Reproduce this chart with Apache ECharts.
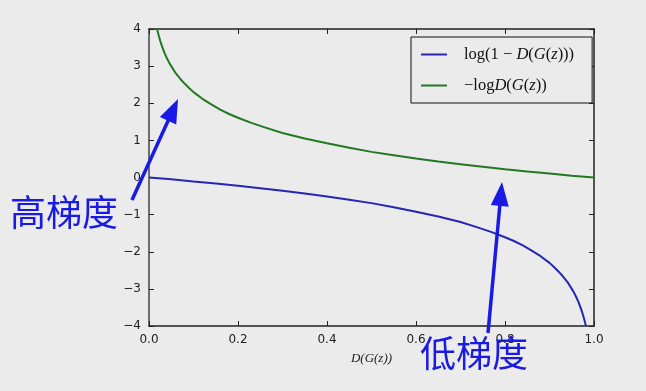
<!DOCTYPE html>
<html><head><meta charset="utf-8">
<script src="https://cdn.jsdelivr.net/npm/echarts@6/dist/echarts.min.js"></script>
<style>html,body{margin:0;padding:0;background:#ebebeb}#c{width:646px;height:391px}</style>
</head><body><div id="c"></div>
<script>
// values
const greenX = [0.018,0.02,0.022,0.025,0.028,0.03,0.035,0.04,0.045,0.05,0.06,0.07,0.08,0.09,0.1,0.12,0.14,0.16,0.18,0.2,0.23,0.26,0.3,0.35,0.4,0.45,0.5,0.55,0.6,0.65,0.7,0.75,0.8,0.85,0.9,0.95,1.0];
const greenY = [4.0,3.91,3.82,3.69,3.58,3.51,3.35,3.22,3.10,3.0,2.81,2.66,2.53,2.41,2.30,2.12,1.97,1.83,1.71,1.61,1.47,1.35,1.20,1.05,0.92,0.80,0.69,0.60,0.51,0.43,0.36,0.29,0.22,0.16,0.11,0.05,0.0];
const blueX = [0,0.05,0.1,0.15,0.2,0.25,0.3,0.35,0.4,0.45,0.5,0.55,0.6,0.65,0.7,0.74,0.77,0.8,0.82,0.84,0.86,0.88,0.9,0.91,0.92,0.93,0.94,0.95,0.955,0.96,0.965,0.97,0.972,0.975,0.978,0.98,0.982];
const blueY = [0,-0.05,-0.11,-0.16,-0.22,-0.29,-0.36,-0.43,-0.51,-0.60,-0.69,-0.80,-0.92,-1.05,-1.20,-1.35,-1.47,-1.61,-1.71,-1.83,-1.97,-2.12,-2.30,-2.41,-2.53,-2.66,-2.81,-3.0,-3.10,-3.22,-3.35,-3.51,-3.58,-3.69,-3.82,-3.91,-4.0];
const xTicks = [0.0,0.2,0.4,0.6,0.8,1.0];
const yTicks = [-4,-3,-2,-1,0,1,2,3,4];

const chart = echarts.init(document.getElementById('c'));
const lab = {fontFamily:'DejaVu Sans', fontSize:12, color:'#222'};
const rich = {
  n:{fontFamily:'Liberation Serif', fontSize:16.5, color:'#111'},
  i:{fontFamily:'Liberation Serif', fontSize:16.5, fontStyle:'italic', color:'#111'}
};
function arrow(x1,y1,x2,y2){
  const dx=x2-x1, dy=y2-y1, L=Math.hypot(dx,dy), ux=dx/L, uy=dy/L;
  const hl=24, hw=9;
  const bx=x2-ux*hl, by=y2-uy*hl;
  return [
    {type:'line', shape:{x1:x1,y1:y1,x2:bx+ux*2,y2:by+uy*2}, style:{stroke:'#1a1ae6', lineWidth:3.5}, z:100},
    {type:'polygon', shape:{points:[[x2,y2],[bx-uy*hw,by+ux*hw],[bx+uy*hw,by-ux*hw]]}, style:{fill:'#1a1ae6'}, z:100}
  ];
}
const tick = {inside:true,length:5,lineStyle:{color:'#222'}};
chart.setOption({
  backgroundColor:'#ebebeb',
  animation:false,
  grid:{left:149,right:52,top:29,bottom:65},
  legend:{
    orient:'vertical', left:411, top:37, width:181,
    padding:[9,18,9,10], itemGap:14, itemWidth:26, itemHeight:15,
    borderColor:'#111', borderWidth:1, backgroundColor:'#ebebeb',
    icon:'path://M0,6 L26,6 L26,8 L0,8 Z',
    data:['b','g'],
    formatter:function(n){
      return n==='b' ? '{n|log(1 − }{i|D}{n|(}{i|G}{n|(}{i|z}{n|)))}' : '{n|−log}{i|D}{n|(}{i|G}{n|(}{i|z}{n|))}';
    },
    textStyle:{rich:rich, padding:[0,0,0,12]}
  },
  xAxis:[{
    type:'value', min:0, max:1, interval:0.2,
    name:'D(G(z))', nameLocation:'middle', nameGap:26,
    nameTextStyle:{fontFamily:'Liberation Serif', fontStyle:'italic', fontSize:13, color:'#222'},
    axisLine:{onZero:false,lineStyle:{color:'#222',width:1.5}},
    axisTick:tick,
    axisLabel:Object.assign({margin:8, formatter:v=>v.toFixed(1)},lab),
    splitLine:{show:false}
  },{
    type:'value', position:'top', min:0, max:1, interval:0.2,
    axisLine:{show:true,onZero:false,lineStyle:{color:'#222',width:1.5}},
    axisTick:tick, axisLabel:{show:false}, splitLine:{show:false}
  }],
  yAxis:[{
    type:'value', min:-4, max:4, interval:1,
    axisLine:{show:true,onZero:false,lineStyle:{color:'#444',width:1.5}},
    axisTick:tick,
    axisLabel:Object.assign({margin:8, formatter:v=>String(v).replace('-','−')},lab),
    splitLine:{show:false}
  },{
    type:'value', position:'right', min:-4, max:4, interval:1,
    axisLine:{show:true,onZero:false,lineStyle:{color:'#222',width:1.5}},
    axisTick:tick, axisLabel:{show:false}, splitLine:{show:false}
  }],
  series:[
    {name:'b', type:'line', showSymbol:false, smooth:false,
     data:blueX.map((x,i)=>[x,blueY[i]]), lineStyle:{color:'#2626b4',width:2}, itemStyle:{color:'#2626b4'}},
    {name:'g', type:'line', showSymbol:false, smooth:false,
     data:greenX.map((x,i)=>[x,greenY[i]]), lineStyle:{color:'#237823',width:2}, itemStyle:{color:'#237823'}}
  ],
  graphic:[].concat(
    arrow(132,200,178,99),
    arrow(488,333,502,182),
    [{type:'text', left:10, top:194, z:100, style:{text:'高梯度', font:'36px "Noto Sans CJK SC"', fill:'#1a1ae6'}},
     {type:'text', left:420, top:335, z:100, style:{text:'低梯度', font:'36px "Noto Sans CJK SC"', fill:'#1a1ae6'}}]
  )
});
</script></body></html>
